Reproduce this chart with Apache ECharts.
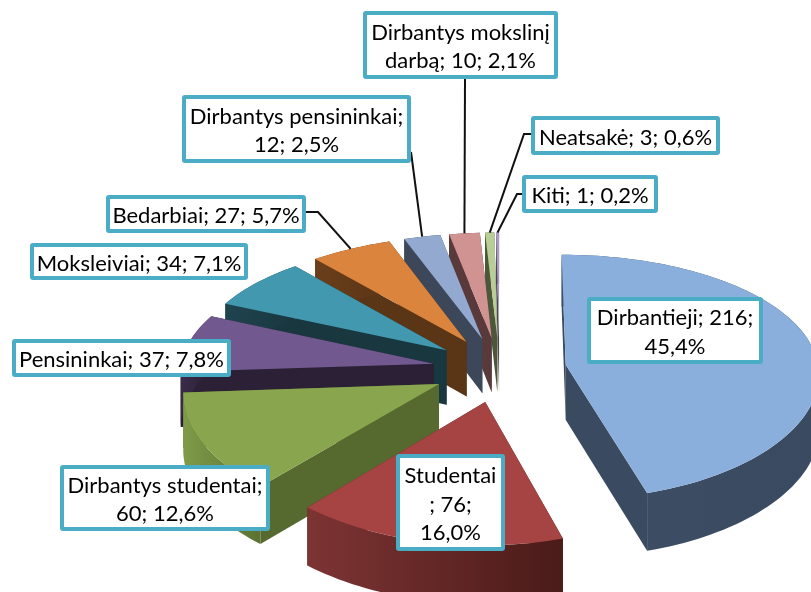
<!DOCTYPE html>
<html>
<head>
<meta charset="utf-8">
<style>html,body{margin:0;padding:0;background:#fff}#main{width:811px;height:592px}</style>
<script src="https://cdn.jsdelivr.net/npm/echarts@6/dist/echarts.min.js"></script>
</head>
<body>
<div id="main"></div>
<script>
// data, clockwise from 12 o'clock
var categories = ['Dirbantieji', 'Studentai', 'Dirbantys studentai', 'Pensininkai', 'Moksleiviai',
    'Bedarbiai', 'Dirbantys pensininkai', 'Dirbantys mokslinį darbą', 'Neatsakė', 'Kiti'];
var values = [216, 76, 60, 37, 34, 27, 12, 10, 3, 1];
var percents = ['45,4%', '16,0%', '12,6%', '7,8%', '7,1%', '5,7%', '2,5%', '2,1%', '0,6%', '0,2%'];
var labels = [
    'Dirbantieji; 216;\n45,4%', 'Studentai\n; 76;\n16,0%', 'Dirbantys studentai;\n60; 12,6%',
    'Pensininkai; 37; 7,8%', 'Moksleiviai; 34; 7,1%', 'Bedarbiai; 27; 5,7%',
    'Dirbantys pensininkai;\n12; 2,5%', 'Dirbantys mokslinį\ndarbą; 10; 2,1%',
    'Neatsakė; 3; 0,6%', 'Kiti; 1; 0,2%'
];

// styles
var topColors = ['#8aafdd', '#a54442', '#89a54e', '#71588f', '#4198af', '#db843d', '#93a9cf', '#d09392', '#b9cd96', '#a99bbd'];
var cutColors = ['#3a4a60', '#5a2322', '#566a2f', '#2b2036', '#19373f', '#5a3516', '#3c4759', '#59393a', '#4c5638', '#4a4455'];
var wallLeft = ['#3c4e66', '#7d3433', '#7f9b48', '#3a2c49', '#1f444f', '#6a3f1b', '#3c4759', '#59393a', '#4c5638', '#4a4455'];
var wallRight = ['#3a4a60', '#4a1b19', '#5c7132', '#2b2036', '#19373f', '#5a3516', '#3c4759', '#59393a', '#4c5638', '#4a4455'];

// label boxes [x0, y0, x1, y1] and where the leader line leaves the box
var boxes = [
    [587, 297, 763, 364], [396, 454, 505, 551], [60, 465, 270, 531], [12, 339, 231, 377], [30, 243, 248, 280],
    [106, 195, 306, 233], [182, 95, 411, 163], [363, 11, 558, 79], [531, 116, 720, 155], [522, 175, 658, 213]
];
var leaders = [null, null, null, null, null,
    [[306, 212], [318, 212]], [[411, 152]], [[465, 79]], [[531, 134], [524, 134]], [[522, 194], [517, 194]]];

// pie projection
var cx = 499.5, cy = 369.5, RX = 253, RY = 122, KX = 0.065, KY = 0.1, EXPLODE = 0.265, DEPTH = 55;
var total = values.reduce(function (a, b) { return a + b; }, 0);

function project(u, v) {
    return [cx + RX * u / (1 - KX * v), cy + RY * v / (1 - KY * v)];
}
function down(p, v) {
    return [p[0], p[1] + DEPTH + 3 * v];
}

var acc = 0;
var slices = values.map(function (val) {
    var a0 = acc / total * Math.PI * 2;
    acc += val;
    var a1 = acc / total * Math.PI * 2;
    var mid = (a0 + a1) / 2;
    var ou = Math.sin(mid) * EXPLODE, ov = -Math.cos(mid) * EXPLODE;
    var arc = [], n = Math.max(2, Math.ceil((a1 - a0) / 0.03));
    for (var i = 0; i <= n; i++) {
        var a = a0 + (a1 - a0) * i / n;
        arc.push({u: ou + Math.sin(a), v: ov - Math.cos(a)});
    }
    return {
        apex: {u: ou, v: ov},
        arc: arc,
        tip: {u: ou + Math.sin(mid), v: ov - Math.cos(mid)},
        mid: ov
    };
});
// painter's order, back slices first
var rank = slices.map(function (s, i) { return i; }).sort(function (a, b) { return slices[a].mid - slices[b].mid; });

function P(q) { return project(q.u, q.v); }

function cutFace(a, b) {
    var pa = P(a), pb = P(b);
    return [pa, pb, down(pb, b.v), down(pa, a.v)];
}

function renderSlice(params, api) {
    var i = api.value(0);
    var s = slices[i];
    var z = rank.indexOf(i) * 10 + 1;
    var top = [P(s.apex)].concat(s.arc.map(P));
    var wall = s.arc.map(P).concat(s.arc.slice().reverse().map(function (q) { return down(P(q), q.v); }));
    var first = s.arc[0], last = s.arc[s.arc.length - 1];
    var kids = [
        {type: 'polygon', z2: z, shape: {points: cutFace(s.apex, first)}, style: {fill: cutColors[i]}, silent: true},
        {type: 'polygon', z2: z, shape: {points: cutFace(s.apex, last)}, style: {fill: cutColors[i]}, silent: true},
        {type: 'polygon', z2: z + 1, shape: {points: wall}, silent: true, style: {
            fill: new echarts.graphic.LinearGradient(0, 0, 1, 0, [
                {offset: 0, color: wallLeft[i]}, {offset: 1, color: wallRight[i]}
            ])
        }},
        {type: 'polygon', z2: z + 2, shape: {points: top}, style: {fill: topColors[i]}, silent: true}
    ];
    var b = boxes[i];
    if (leaders[i]) {
        kids.push({type: 'polyline', z2: 900, silent: true,
            shape: {points: leaders[i].concat([P(s.tip)])},
            style: {stroke: '#111', lineWidth: 2, fill: null}});
    }
    kids.push({type: 'rect', z2: 1000, silent: true,
        shape: {x: b[0] + 2, y: b[1] + 2, width: b[2] - b[0] - 4, height: b[3] - b[1] - 4, r: 1},
        style: {fill: '#fff', stroke: '#4bacc6', lineWidth: 4}});
    kids.push({type: 'text', z2: 1001, silent: true, style: {
        text: labels[i], x: (b[0] + b[2]) / 2, y: (b[1] + b[3]) / 2 + 2, align: 'center', verticalAlign: 'middle',
        font: '22px Lato', lineHeight: 28.5, fill: '#000'
    }});
    return {type: 'group', children: kids};
}

var option = {
    backgroundColor: '#fff',
    animation: false,
    series: [{
        type: 'custom',
        coordinateSystem: 'none',
        renderItem: renderSlice,
        data: categories.map(function (name, i) {
            return {name: name + '; ' + values[i] + '; ' + percents[i], value: [i, values[i]]};
        })
    }]
};

var chart = echarts.init(document.getElementById('main'));
chart.setOption(option);
</script>
</body>
</html>
